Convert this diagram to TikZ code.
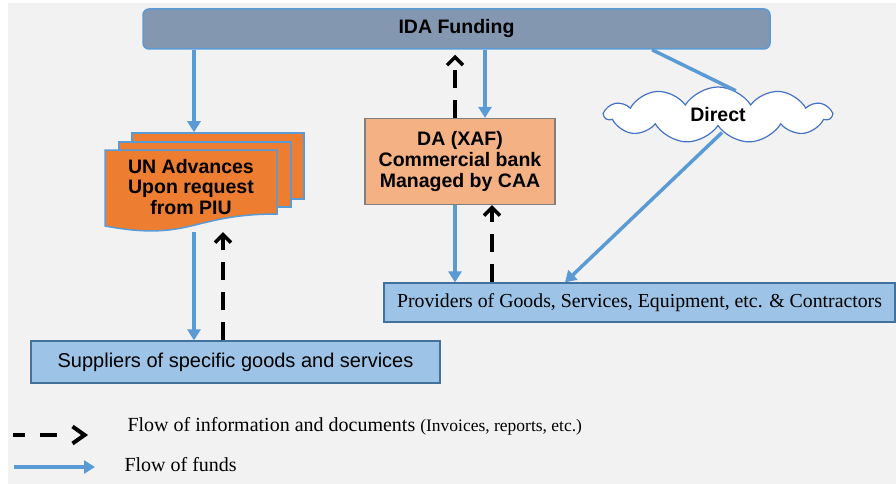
\documentclass[tikz,border=0pt]{standalone}
\usepackage{fontspec}
\setmainfont{Liberation Serif}
\newfontfamily\arial{Liberation Sans}
\usetikzlibrary{positioning}
\usetikzlibrary{arrows.meta}
\usetikzlibrary{shapes.symbols}

\definecolor{bggray}{HTML}{F2F2F2}
\definecolor{idafill}{HTML}{8497B0}
\definecolor{fundblue}{HTML}{5B9BD5}
\definecolor{unorange}{HTML}{ED7D31}
\definecolor{dafill}{HTML}{F4B183}
\definecolor{daedge}{HTML}{7F7F7F}
\definecolor{provfill}{HTML}{9DC3E6}
\definecolor{provedge}{HTML}{41719C}
\definecolor{cloudedge}{HTML}{4472C4}

\begin{document}
\begin{tikzpicture}[x=1pt, y=-1pt,
    bold/.style = {font=\arial\bfseries\fontsize{19.5}{20.5}\selectfont, align=center},
    ida/.style = {bold, draw=fundblue, fill=idafill, line width=1.5pt, rounded corners=6pt, minimum width=627pt, minimum height=40pt},
    da/.style = {bold, draw=daedge, fill=dafill, line width=1.2pt, minimum width=190pt, minimum height=86pt},
    page/.style = {draw=fundblue, fill=unorange, line width=1.5pt},
    sup/.style = {draw=provedge, fill=provfill, line width=1.2pt},
    direct/.style = {bold, cloud, cloud puffs=11, cloud puff arc=115, aspect=4.1, draw=cloudedge, fill=white, line width=1.2pt, minimum width=226pt, minimum height=56pt, inner sep=0pt},
    fund/.style = {draw=fundblue, line width=3.5pt, -{Triangle[length=11pt,width=13pt]}},
    info/.style = {draw=black, line width=4pt, dash pattern=on 18pt off 12pt, -{Straight Barb[length=8pt,width=16pt,line width=3.5pt]}}]

    % background
    \fill[white] (0,0) rectangle (896,484);
    \fill[bggray] (8,3) rectangle (896,484);
    \useasboundingbox (0,0) rectangle (896,484);

    \node[ida] (IDA) at (456.5,29) {IDA Funding};
    \node[da] (DA) at (460,161.5) {DA (XAF)\\Commercial bank\\Managed by CAA};
    \node[direct] (Direct) at (718,115) {Direct};
    \node[sup, minimum width=511pt, minimum height=39pt, font=\fontsize{19.8}{20}\selectfont] (Prov) at (639.5,302.5) {Providers of Goods, Services, Equipment, etc. \& Contractors};
    \node[sup, minimum width=409pt, minimum height=42pt, font=\arial\fontsize{20}{20}\selectfont] (Sup) at (235.5,362) {Suppliers of specific goods and services};

    % UN advances (stacked pages)
    \node[page, minimum width=172pt, minimum height=66pt] (UNback) at (218,166) {};
    \node[page, minimum width=172pt, minimum height=65pt] (UNmid) at (205,174.5) {};
    \draw[page] (105,150) -- (277,150) -- (277,214) .. controls (191,214) and (191,242) .. (105,226) -- cycle;
    \node[bold, minimum width=172pt, minimum height=82pt, inner sep=0pt] (UN) at (191,191) {};
    \node[bold] (UNtext) at (191,187) {UN Advances\\Upon request\\from PIU};

    % flows
    \draw[fund] ([xshift=3pt]UN.north |- IDA.south) -- ([xshift=3pt]UN.north |- UNback.north);
    \draw[fund] ([xshift=3pt]UN.south) -- ([xshift=3pt]UN.south |- Sup.north);
    \draw[info] ([xshift=32pt]UN.south |- Sup.north) -- ([xshift=32pt]UN.south);
    \draw[fund] ([xshift=25pt]DA.north |- IDA.south) -- ([xshift=25pt]DA.north);
    \draw[info, shorten >=5pt] ([xshift=-5pt]DA.north) -- ([xshift=-5pt]DA.north |- IDA.south);
    \draw[fund] ([xshift=-5pt]DA.south) -- ([xshift=-5pt]DA.south |- Prov.north);
    \draw[info] ([xshift=32pt]DA.south |- Prov.north) -- ([xshift=32pt]DA.south);
    \draw[draw=fundblue, line width=3.5pt, shorten >=2pt] ([xshift=195.5pt]IDA.south) -- (Direct.50);
    \draw[fund] ([xshift=4pt,yshift=-6pt]Direct.south) -- ([xshift=-74.5pt]Prov.north);

    % legend
    \coordinate (infoA) at (13,435);
    \coordinate (infoB) at (88,435);
    \coordinate (fundA) at (14,467);
    \coordinate (fundB) at (95,467);
    \draw[info, dash pattern=on 12pt off 15pt on 17pt off 40pt, -{Straight Barb[length=12pt,width=17pt,line width=4pt]}] (infoA) -- (infoB);
    \draw[fund] (fundA) -- (fundB);
    \node[anchor=west, font=\fontsize{20}{20}\selectfont] (infoText) at (124,426) {Flow of information and documents {\fontsize{17.5}{18}\selectfont (Invoices, reports, etc.)}};
    \node[anchor=west, font=\fontsize{20}{20}\selectfont] (fundText) at (121,465) {Flow of funds};
\end{tikzpicture}
\end{document}
